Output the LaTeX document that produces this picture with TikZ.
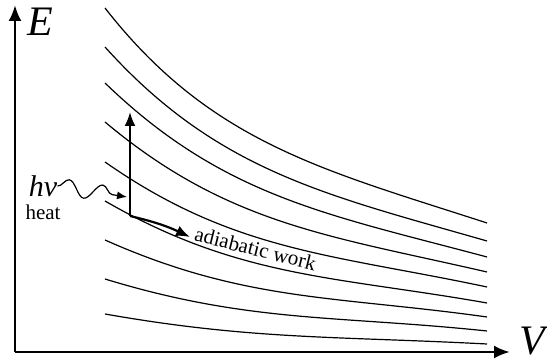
\documentclass[tikz,border=0pt]{standalone}
\usepackage{fontspec}
\setmainfont{Liberation Serif}
\usetikzlibrary{arrows.meta,positioning,decorations.pathmorphing}

\begin{document}
\begin{tikzpicture}[
  x=0.5pt, y=0.5pt, font=\fontsize{10.5}{12}\selectfont,
  axis/.style={line width=1.3pt, -{Latex[length=8pt,width=6.5pt]}},
  adiabat/.style={line width=0.6pt},
  arr/.style={line width=1.1pt, -{Latex[length=7pt,width=5.5pt]}},
  lbl/.style={inner sep=0pt, font=\fontsize{21}{23}\selectfont\itshape}
]
  \useasboundingbox (0,0) rectangle (547,363);

  % axes
  \coordinate (O) at (15,11);
  \coordinate (Etop) at (15,358);
  \coordinate (Vend) at (510,11);
  \draw[axis] (O) -- (Etop);
  \draw[axis] (O) -- (Vend);
  \node[lbl] (E) at (40,341) {E};
  \node[lbl] (V) at (532,22) {V};

  % family of adiabats
  \foreach \ys/\ye/\ao/\ai in {355/140/-52/162, 316/122/-48/164, 280/106/-44/165,
      241/91/-40/167, 201/76/-35/168, 162/60/-30/170, 123/46/-24/172,
      84/32/-17/174, 49/19/-10/177}
    \draw[adiabat] (105,\ys) to[out=\ao,in=\ai] (487,\ye);

  % heating and adiabatic work
  \coordinate (start) at (130,147);
  \coordinate (hot) at (130,251);
  \coordinate (work end) at (190,126);
  \draw[arr] (start) -- (hot);
  \draw[arr] (start) to[bend left=6] (work end);
  \node[rotate=-14, anchor=west, inner sep=1pt] (work) at (193,130) {adiabatic work};

  % photon
  \node[font=\fontsize{15}{16}\selectfont\itshape, inner sep=0pt] (hnu) at (43,177) {hν};
  \node[below=4pt of hnu, inner sep=0pt] (heat) {heat};
  \coordinate (absorb) at (127,166);
  \draw[line width=0.6pt, -{Latex[length=5pt,width=4pt]}, decorate,
    decoration={snake, segment length=17pt, amplitude=4pt, post length=6pt}]
    (hnu.east) -- (absorb);
\end{tikzpicture}
\end{document}
